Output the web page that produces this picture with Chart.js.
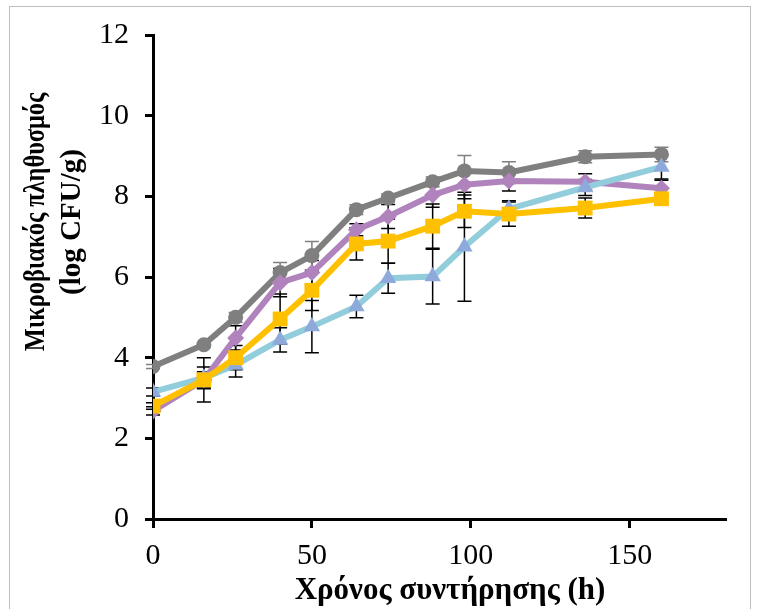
<!DOCTYPE html>
<html>
<head>
<meta charset="utf-8">
<script src="https://cdn.jsdelivr.net/npm/chart.js@4.4.1/dist/chart.umd.min.js"></script>
<style>
  body { margin: 0; background: #fff; }
  #wrap { position: relative; width: 759px; height: 609px; overflow: hidden; }
  #frame { position: absolute; left: 9px; top: 6px; width: 740px; height: 640px; border: 1px solid #bfbfbf; pointer-events: none; }
  canvas { position: absolute; left: 0; top: 0; }
</style>
</head>
<body>
<div id="wrap">
  <canvas id="chart" width="759" height="609"></canvas>
  <div id="frame"></div>
</div>
<script>
const hours = [0, 16, 26, 40, 50, 64, 74, 88, 98, 112, 136, 160];
const gray = [3.78, 4.32, 5.0, 6.11, 6.53, 7.67, 7.96, 8.36, 8.63, 8.59, 8.98, 9.04];
const grayErr = [0.05, 0.05, 0.12, 0.25, 0.35, 0.12, 0.1, 0.12, 0.38, 0.27, 0.15, 0.18];
const purple = [2.68, 3.45, 4.49, 5.86, 6.11, 7.17, 7.5, 8.03, 8.29, 8.38, 8.36, 8.2];
const purpleErr = [0.1, 0.2, 0.3, 0.35, 0.3, 0.15, 0.3, 0.3, 0.35, 0.25, 0.2, 0.2];
const yellow = [2.8, 3.45, 4.0, 4.96, 5.67, 6.82, 6.89, 7.26, 7.63, 7.56, 7.71, 7.94];
const yellowErr = [0.08, 0.55, 0.3, 0.62, 0.5, 0.4, 0.55, 0.55, 0.4, 0.3, 0.25, 0.1];
const blue = [3.15, 3.5, 3.82, 4.44, 4.77, 5.27, 5.97, 6.01, 6.75, 7.69, 8.22, 8.73];
const blueErr = [0.1, 0.27, 0.3, 0.3, 0.65, 0.28, 0.37, 0.68, 1.35, 0.2, 0.2, 0.3];

const xTicks = [0, 50, 100, 150];
const yTitle = ['Μικροβιακός πληθυσμός', '(log CFU/g)'];
const xTitle = 'Χρόνος συντήρησης (h)';

const serif = "'Liberation Serif', 'Times New Roman', serif";

function pts(vals) {
  return hours.map((h, i) => ({ x: h, y: vals[i] }));
}

// error bars drawn under the lines, through the chart's own scales
const errorBars = {
  id: 'errorBars',
  beforeDatasetsDraw(chart) {
    const ctx = chart.ctx;
    const xs = chart.scales.x, ys = chart.scales.y;
    chart.data.datasets.forEach(ds => {
      if (!ds.err) return;
      ctx.save();
      ctx.strokeStyle = ds.errColor;
      ctx.lineWidth = 1.5;
      ds.data.forEach((p, i) => {
        const e = ds.err[i];
        const px = xs.getPixelForValue(p.x);
        const top = ys.getPixelForValue(p.y + e);
        const bot = ys.getPixelForValue(p.y - e);
        ctx.beginPath();
        ctx.moveTo(px, top); ctx.lineTo(px, bot);
        ctx.moveTo(px - 7, top); ctx.lineTo(px + 7, top);
        ctx.moveTo(px - 7, bot); ctx.lineTo(px + 7, bot);
        ctx.stroke();
      });
      ctx.restore();
    });
  }
};

// axis titles placed like the original
const titles = {
  id: 'titles',
  afterDraw(chart) {
    const ctx = chart.ctx;
    ctx.save();
    ctx.fillStyle = '#000';
    ctx.textAlign = 'center';
    ctx.textBaseline = 'middle';
    ctx.font = 'bold 31px ' + serif;
    ctx.fillText(xTitle, 450, 591);
    ctx.restore();

    ctx.save();
    ctx.fillStyle = '#000';
    ctx.textAlign = 'center';
    ctx.textBaseline = 'middle';
    ctx.translate(37, 222);
    ctx.rotate(-Math.PI / 2);
    ctx.font = 'bold 29px ' + serif;
    ctx.save();
    ctx.scale(0.84, 1);
    ctx.fillText(yTitle[0], 0, 0);
    ctx.restore();
    ctx.fillText(yTitle[1], 0, 36);
    ctx.restore();
  }
};

new Chart(document.getElementById('chart'), {
  type: 'line',
  data: {
    datasets: [
      {
        label: 'yellow', data: pts(yellow), err: yellowErr, errColor: '#000',
        borderColor: '#ffc000', backgroundColor: '#ffc000', borderWidth: 6,
        pointStyle: 'rect', pointRadius: 10.5, pointBorderWidth: 0, pointHoverRadius: 10.5
      },
      {
        label: 'blue', data: pts(blue), err: blueErr, errColor: '#000',
        borderColor: '#92cddc', backgroundColor: '#8eaadb', borderWidth: 6,
        pointStyle: 'triangle', pointRadius: 9.5, pointBorderWidth: 0, pointHoverRadius: 9.5
      },
      {
        label: 'purple', data: pts(purple), err: purpleErr, errColor: '#000',
        borderColor: '#b083bd', backgroundColor: '#b083bd', borderWidth: 6,
        pointStyle: 'rectRot', pointRadius: 8.5, pointBorderWidth: 0, pointHoverRadius: 8.5
      },
      {
        label: 'gray', data: pts(gray), err: grayErr, errColor: '#808080',
        borderColor: '#7f7f7f', backgroundColor: '#7f7f7f', borderWidth: 6,
        pointStyle: 'circle', pointRadius: 7.5, pointBorderWidth: 0, pointHoverRadius: 7.5
      }
    ]
  },
  options: {
    responsive: false,
    animation: false,
    layout: { padding: { left: 0, right: 34, top: 35, bottom: 0 } },
    scales: {
      x: {
        type: 'linear',
        min: 0,
        max: 180,
        afterBuildTicks: s => { s.ticks = xTicks.map(v => ({ value: v })); },
        afterFit: s => { s.height = 90; },
        border: { color: '#000', width: 3 },
        grid: { drawOnChartArea: false, drawTicks: true, tickLength: 9, color: '#000', lineWidth: 3 },
        ticks: { color: '#000', padding: 10, maxRotation: 0, font: { family: serif, size: 30 } }
      },
      y: {
        min: 0,
        max: 12,
        afterFit: s => { s.width = 153; },
        border: { color: '#000', width: 3 },
        grid: { drawOnChartArea: false, drawTicks: true, tickLength: 8, color: '#000', lineWidth: 3 },
        ticks: { stepSize: 2, color: '#000', padding: 16, font: { family: serif, size: 30 } }
      }
    },
    plugins: {
      legend: { display: false },
      tooltip: { enabled: false }
    }
  },
  plugins: [errorBars, titles]
});
</script>
</body>
</html>
